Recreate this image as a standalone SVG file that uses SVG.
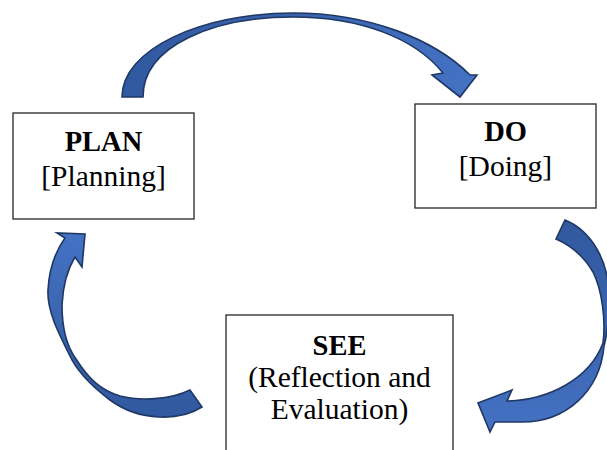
<svg xmlns="http://www.w3.org/2000/svg" width="607" height="450" viewBox="0 0 607 450">
<style>
.box{fill:#fff;stroke:#262626;stroke-width:1.3}
.arr{stroke:#1F3864;stroke-width:1.6;stroke-linejoin:miter}
.t{font-family:"Liberation Serif","Times New Roman",serif;font-size:29.5px;fill:#000;text-anchor:middle}
.b{font-weight:bold;font-size:28.5px}
</style>
<defs>
<linearGradient id="gTop" x1="0" y1="0" x2="1" y2="0">
<stop offset="0" stop-color="#3159A0"/><stop offset="0.5" stop-color="#3A64AE"/><stop offset="1" stop-color="#4472C4"/>
</linearGradient>
<linearGradient id="gRight" x1="0" y1="0" x2="0" y2="1">
<stop offset="0" stop-color="#3159A0"/><stop offset="0.55" stop-color="#3A64AE"/><stop offset="1" stop-color="#4472C4"/>
</linearGradient>
<linearGradient id="gLeft" x1="0" y1="1" x2="0" y2="0">
<stop offset="0" stop-color="#3159A0"/><stop offset="0.5" stop-color="#3A64AE"/><stop offset="1" stop-color="#4472C4"/>
</linearGradient>
</defs>
<g id="connectors">
<path id="arrow-plan-do" class="arr" fill="url(#gTop)" d="M122,97 C122,50 200,13 293,13 C370,13 435,40 470,75 L477,75 L460,97 L432,75 L443,73 C415,38 360,17 293,17 C215,17 143,45 143,97 Z"/>
<path id="arrow-do-see" class="arr" fill="url(#gRight)" d="M565,220 C590,230 610,260 609,300 C609,320 607,335 604,346 C600,392 565,423 520,422 L495,422 L490,432 L478,403 L512,390 L507,401 C550,400 590,378 603,343 C606,320 602,290 593,272 C583,255 570,245 556,239 Z"/>
<path id="arrow-see-plan" class="arr" fill="url(#gLeft)" d="M202,407 C180,421 140,422 110,400 C90,385 76,370 69,354 C57,330 47,310 48,290 C49,270 55,252 65,238 L57,233 L85,234 L82,267 L75,257 C67,270 63,285 62,305 C62,330 68,348 76,359 C88,378 100,390 120,396 C140,401 170,400 190,390 Z"/>
</g>
<g id="node-plan">
<rect class="box" x="13" y="113" width="181" height="106"/>
<text class="t b" x="103.5" y="151">PLAN</text>
<text class="t" x="103.5" y="186">[Planning]</text>
</g>
<g id="node-do">
<rect class="box" x="415" y="104" width="181" height="104"/>
<text class="t b" x="505.5" y="141">DO</text>
<text class="t" x="505.5" y="176">[Doing]</text>
</g>
<g id="node-see">
<rect class="box" x="226" y="315" width="227" height="145"/>
<text class="t b" x="339.5" y="355">SEE</text>
<text class="t" x="339.5" y="387">(Reflection and</text>
<text class="t" x="339.5" y="419">Evaluation)</text>
</g>
</svg>
